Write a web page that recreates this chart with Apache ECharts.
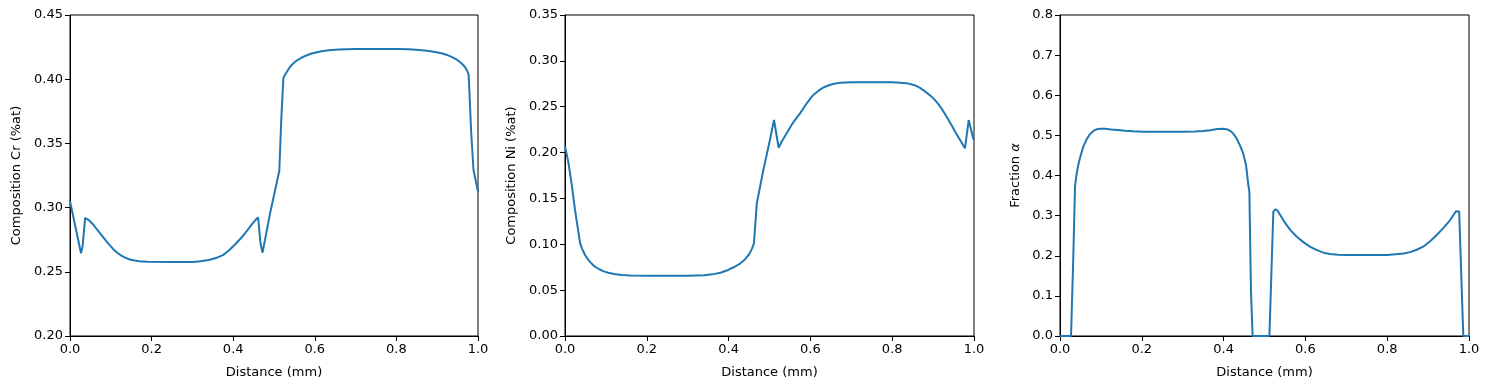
<!DOCTYPE html>
<html>
<head>
<meta charset="utf-8">
<script src="https://cdn.jsdelivr.net/npm/echarts@6/dist/echarts.min.js"></script>
<style>html,body{margin:0;padding:0;background:#fff}#c{width:1489px;height:389px}</style>
</head>
<body>
<div id="c"></div>
<script>
// ---- data ----
const crX = [0, 0.027, 0.031, 0.037, 0.045, 0.055, 0.065, 0.075, 0.085, 0.095, 0.105, 0.115, 0.125, 0.135, 0.145, 0.155, 0.17, 0.19, 0.25, 0.30, 0.32, 0.34, 0.36, 0.375, 0.39, 0.405, 0.42, 0.435, 0.447, 0.455, 0.461, 0.467, 0.472, 0.49, 0.513, 0.518, 0.523, 0.527, 0.532, 0.539, 0.547, 0.556, 0.566, 0.578, 0.59, 0.605, 0.62, 0.64, 0.66, 0.70, 0.80, 0.83, 0.855, 0.875, 0.895, 0.91, 0.925, 0.938, 0.95, 0.96, 0.968, 0.974, 0.977, 0.979, 0.983, 0.989, 1.0];
const crY = [0.305, 0.2644, 0.270, 0.292, 0.2905, 0.2875, 0.2835, 0.2795, 0.2755, 0.2715, 0.268, 0.265, 0.2628, 0.261, 0.2598, 0.259, 0.2583, 0.2579, 0.2576, 0.2577, 0.2582, 0.2592, 0.261, 0.263, 0.2668, 0.2715, 0.2765, 0.2825, 0.2875, 0.2905, 0.2924, 0.272, 0.2649, 0.295, 0.3287, 0.370, 0.4007, 0.4035, 0.406, 0.4095, 0.4122, 0.4145, 0.4165, 0.4183, 0.4198, 0.421, 0.422, 0.4228, 0.4232, 0.4235, 0.4235, 0.4233, 0.4228, 0.4222, 0.4212, 0.4202, 0.4188, 0.417, 0.4148, 0.4122, 0.4095, 0.4062, 0.4035, 0.39, 0.36, 0.3293, 0.3124];

const niX = [0, 0.008, 0.016, 0.0245, 0.037, 0.042, 0.049, 0.057, 0.065, 0.073, 0.085, 0.095, 0.106, 0.12, 0.139, 0.16, 0.20, 0.30, 0.34, 0.36, 0.38, 0.399, 0.415, 0.428, 0.44, 0.45, 0.457, 0.462, 0.469, 0.485, 0.501, 0.511, 0.5224, 0.53, 0.542, 0.555, 0.5746, 0.59, 0.607, 0.62, 0.63, 0.640, 0.655, 0.672, 0.70, 0.80, 0.82, 0.84, 0.855, 0.868, 0.88, 0.89, 0.90, 0.91, 0.92, 0.933, 0.945, 0.955, 0.966, 0.972, 0.978, 0.987, 0.998, 1.0];
const niY = [0.207, 0.19, 0.1665, 0.1374, 0.101, 0.095, 0.0883, 0.083, 0.079, 0.0756, 0.0725, 0.0705, 0.069, 0.0677, 0.0666, 0.0661, 0.0658, 0.0658, 0.0662, 0.0672, 0.069, 0.072, 0.0755, 0.079, 0.0835, 0.089, 0.095, 0.101, 0.1447, 0.181, 0.2137, 0.2355, 0.2053, 0.212, 0.221, 0.231, 0.2428, 0.253, 0.2628, 0.2675, 0.2705, 0.2726, 0.2748, 0.2762, 0.2766, 0.2766, 0.2762, 0.2752, 0.2735, 0.2705, 0.2668, 0.2632, 0.2594, 0.2545, 0.2485, 0.239, 0.230, 0.222, 0.2137, 0.209, 0.2047, 0.2355, 0.2155, 0.214];

const faX = [0, 0.027, 0.0326, 0.0367, 0.040, 0.045, 0.05, 0.057, 0.065, 0.073, 0.082, 0.09, 0.098, 0.11, 0.125, 0.14, 0.16, 0.18, 0.204, 0.30, 0.33, 0.35, 0.367, 0.385, 0.399, 0.41, 0.418, 0.424, 0.432, 0.44, 0.448, 0.455, 0.460, 0.463, 0.467, 0.471, 0.512, 0.5216, 0.527, 0.532, 0.538, 0.546, 0.555, 0.565, 0.579, 0.595, 0.611, 0.627, 0.644, 0.66, 0.68, 0.70, 0.80, 0.82, 0.84, 0.856, 0.872, 0.888, 0.905, 0.921, 0.937, 0.954, 0.963, 0.968, 0.972, 0.976, 0.986, 1.0];
const faY = [0, 0, 0.2, 0.372, 0.40, 0.428, 0.448, 0.472, 0.49, 0.503, 0.511, 0.5155, 0.5167, 0.5163, 0.5148, 0.5134, 0.5115, 0.510, 0.509, 0.509, 0.5098, 0.5112, 0.513, 0.5158, 0.5167, 0.5145, 0.51, 0.504, 0.492, 0.475, 0.455, 0.425, 0.38, 0.36, 0.11, 0, 0, 0.31, 0.316, 0.312, 0.302, 0.289, 0.275, 0.262, 0.2475, 0.234, 0.2226, 0.2145, 0.2077, 0.2045, 0.2025, 0.202, 0.202, 0.2035, 0.2055, 0.209, 0.215, 0.2226, 0.236, 0.2517, 0.269, 0.289, 0.303, 0.311, 0.3135, 0.31, 0, 0];

const xTicks = [0, 0.2, 0.4, 0.6, 0.8, 1.0];
const panels = [
  {xs: crX, ys: crY, yMin: 0.20, yMax: 0.45, yStep: 0.05, yDec: 2, yName: 'Composition Cr (%at)', left: 70, width: 408, gap: 47},
  {xs: niX, ys: niY, yMin: 0, yMax: 0.35, yStep: 0.05, yDec: 2, yName: 'Composition Ni (%at)', left: 565, width: 409, gap: 47},
  {xs: faX, ys: faY, yMin: 0, yMax: 0.8, yStep: 0.1, yDec: 1, yName: 'Fraction {a|α}', left: 1060, width: 409, gap: 38}
];

const font = 'DejaVu Sans';
const grids = [], xAxes = [], yAxes = [], series = [];
panels.forEach((p, i) => {
  grids.push({left: p.left, top: 15, width: p.width, height: 321, show: true, borderColor: '#000', borderWidth: 1, containLabel: false});
  xAxes.push({
    type: 'value', gridIndex: i, min: xTicks[0], max: xTicks[xTicks.length - 1], interval: 0.2,
    name: 'Distance (mm)', nameLocation: 'middle', nameGap: 30,
    nameTextStyle: {fontFamily: font, fontSize: 13, color: '#000'},
    axisLine: {show: true, lineStyle: {color: '#000', width: 1}},
    axisTick: {show: true, inside: false, length: 5, lineStyle: {color: '#000'}},
    axisLabel: {fontFamily: font, fontSize: 13, color: '#000', margin: 7, formatter: v => v.toFixed(1)},
    splitLine: {show: false}
  });
  yAxes.push({
    type: 'value', gridIndex: i, min: p.yMin, max: p.yMax, interval: p.yStep,
    name: p.yName, nameLocation: 'middle', nameGap: p.gap,
    nameTextStyle: {fontFamily: font, fontSize: 13, color: '#000', rich: {a: {fontFamily: font, fontSize: 13, fontStyle: 'italic', color: '#000'}}},
    axisLine: {show: true, lineStyle: {color: '#000', width: 1}},
    axisTick: {show: true, inside: false, length: 5, lineStyle: {color: '#000'}},
    axisLabel: {fontFamily: font, fontSize: 13, color: '#000', margin: 7, formatter: v => v.toFixed(p.yDec)},
    splitLine: {show: false}
  });
  series.push({
    type: 'line', xAxisIndex: i, yAxisIndex: i, showSymbol: false, symbol: 'none',
    data: p.xs.map((x, k) => [x, p.ys[k]]),
    lineStyle: {color: '#1f77b4', width: 2}, animation: false
  });
});

const chart = echarts.init(document.getElementById('c'), null, {renderer: 'canvas'});
chart.setOption({animation: false, grid: grids, xAxis: xAxes, yAxis: yAxes, series: series});
</script>
</body>
</html>
